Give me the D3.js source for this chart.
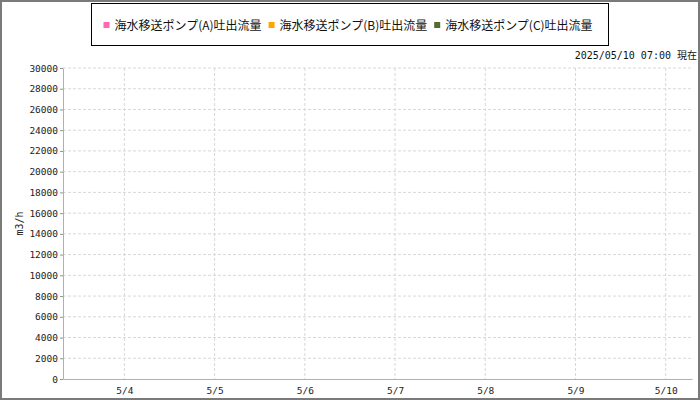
<!DOCTYPE html>
<html>
<head>
<meta charset="utf-8">
<script src="https://cdn.jsdelivr.net/npm/d3@7/dist/d3.min.js"></script>
<style>
  html, body { margin: 0; padding: 0; background: #fff; }
  svg { display: block; }
</style>
</head>
<body>
<div id="chart"></div>
<script>
// series (no samples recorded in this window)
const seriesNames = ['海水移送ポンプ(A)吐出流量', '海水移送ポンプ(B)吐出流量', '海水移送ポンプ(C)吐出流量'];
const seriesColors = ['#ff69b4', '#ffa500', '#556b2f'];
const pumpA = [];
const pumpB = [];
const pumpC = [];
const seriesValues = [pumpA, pumpB, pumpC];

const yTicks = [0, 2000, 4000, 6000, 8000, 10000, 12000, 14000, 16000, 18000, 20000, 22000, 24000, 26000, 28000, 30000];
const xTickDates = ['2025-05-04', '2025-05-05', '2025-05-06', '2025-05-07', '2025-05-08', '2025-05-09', '2025-05-10'];
const xTickLabels = ['5/4', '5/5', '5/6', '5/7', '5/8', '5/9', '5/10'];
const xStart = '2025-05-03T07:40';
const xEnd = '2025-05-10T07:00';
const stampText = '2025/05/10 07:00 現在';
const yLabel = 'm3/h';

const W = 700, H = 400;
const margin = { top: 68, right: 8, bottom: 21, left: 63 };
const monoFont = '"DejaVu Sans Mono", "Noto Sans CJK JP", monospace';

const svg = d3.select('#chart').append('svg')
  .attr('width', W)
  .attr('height', H);

// outer frame
svg.append('rect')
  .attr('x', 1).attr('y', 1)
  .attr('width', W - 2).attr('height', H - 2)
  .attr('fill', '#fff')
  .attr('stroke', '#7a7a7a')
  .attr('stroke-width', 2);

const x = d3.scaleTime()
  .domain([new Date(xStart), new Date(xEnd)])
  .range([margin.left, W - margin.right]);

const y = d3.scaleLinear()
  .domain([0, 30000])
  .range([H - margin.bottom, margin.top]);

const xTicks = xTickDates.map(d => new Date(d + 'T00:00'));

// grid
const grid = svg.append('g');
grid.selectAll('line.h')
  .data(yTicks.filter(d => d > 0))
  .join('line')
  .attr('class', 'h')
  .attr('x1', margin.left).attr('x2', W - margin.right)
  .attr('y1', d => y(d)).attr('y2', d => y(d))
  .attr('stroke', '#d8d8d8')
  .attr('stroke-dasharray', '3,2');

grid.selectAll('line.v')
  .data(xTicks)
  .join('line')
  .attr('class', 'v')
  .attr('x1', d => x(d)).attr('x2', d => x(d))
  .attr('y1', margin.top).attr('y2', H - margin.bottom)
  .attr('stroke', '#d8d8d8')
  .attr('stroke-dasharray', '3,2');

// y axis
const yAxis = svg.append('g')
  .attr('transform', `translate(${margin.left},0)`)
  .call(d3.axisLeft(y).tickValues(yTicks).tickFormat(d3.format('d'))
    .tickSizeInner(3).tickSizeOuter(0).tickPadding(2));
yAxis.select('.domain').attr('stroke', '#b0b0b0');
yAxis.selectAll('.tick line').attr('stroke', '#909090');
yAxis.selectAll('text')
  .style('font-family', monoFont)
  .style('font-size', '9.5px')
  .style('fill', '#222');

// x axis
const xAxis = svg.append('g')
  .attr('transform', `translate(0,${H - margin.bottom})`)
  .call(d3.axisBottom(x).tickValues(xTicks).tickFormat((d, i) => xTickLabels[i]).tickSize(0).tickPadding(8));
xAxis.select('.domain').attr('stroke', '#b0b0b0');
xAxis.selectAll('text')
  .style('font-family', monoFont)
  .style('font-size', '9.5px')
  .style('fill', '#222');

// lines (empty in this window)
const line = d3.line()
  .x(d => x(new Date(d.t)))
  .y(d => y(d.v));
svg.append('g').selectAll('path')
  .data(seriesValues)
  .join('path')
  .attr('fill', 'none')
  .attr('stroke', (d, i) => seriesColors[i])
  .attr('stroke-width', 1.5)
  .attr('d', d => d.length ? line(d) : null);

// y label
svg.append('text')
  .attr('transform', `translate(23,${(margin.top + H - margin.bottom) / 2}) rotate(-90)`)
  .attr('text-anchor', 'middle')
  .style('font-family', monoFont)
  .style('font-size', '10px')
  .style('fill', '#222')
  .text(yLabel);

// timestamp
svg.append('text')
  .attr('x', 697)
  .attr('y', 59)
  .attr('text-anchor', 'end')
  .style('font-family', monoFont)
  .style('font-size', '10px')
  .style('fill', '#111')
  .text(stampText);

// legend
svg.append('rect')
  .attr('x', 91.5).attr('y', 3.5)
  .attr('width', 517).attr('height', 42)
  .attr('fill', '#fff')
  .attr('stroke', '#000');

let lx = 103.5;
seriesNames.forEach((name, i) => {
  svg.append('rect')
    .attr('x', lx).attr('y', 22)
    .attr('width', 6).attr('height', 6)
    .attr('fill', seriesColors[i]);
  const t = svg.append('text')
    .attr('x', lx + 11)
    .attr('y', 29.5)
    .style('font-family', '"Noto Sans CJK JP", sans-serif')
    .style('font-size', '12px')
    .style('fill', '#111')
    .text(name);
  lx += 11 + t.node().getComputedTextLength() + 7;
});
</script>
</body>
</html>
